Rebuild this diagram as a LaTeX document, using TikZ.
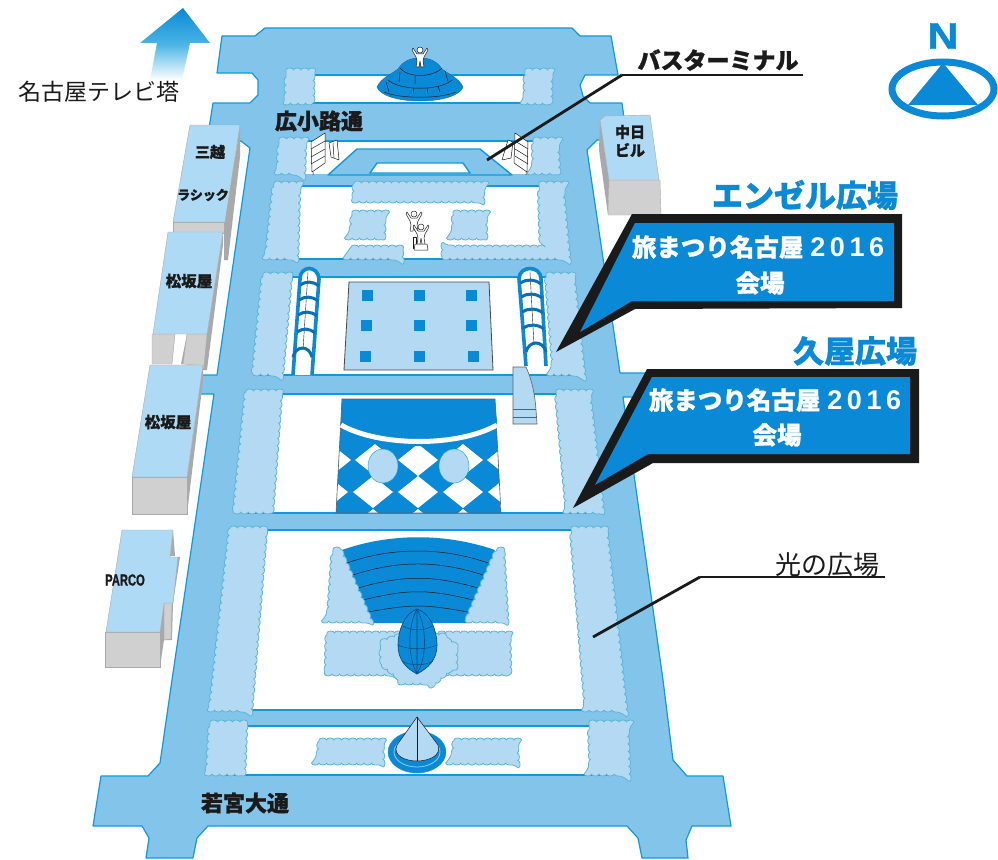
\documentclass[tikz,border=0pt]{standalone}
\usepackage{fontspec}
\usetikzlibrary{decorations.pathmorphing}
\setmainfont[BoldFeatures={FakeBold=1.2}]{Liberation Sans}
\newfontfamily\jp[BoldFeatures={FakeBold=1}]{Noto Sans CJK JP}
\newfontfamily\numfont[LetterSpace=17]{Liberation Sans}
\newcommand\myfs[1]{\fontsize{#1}{#1}\selectfont}
\definecolor{roadc}{HTML}{83C4EB}
\definecolor{edgec}{HTML}{0E9BDC}
\definecolor{shrubc}{HTML}{B4DAF3}
\definecolor{shrubl}{HTML}{5DB5D6}
\definecolor{deepc}{HTML}{0A8AD6}
\definecolor{roofc}{HTML}{AFDAF6}
\definecolor{frontc}{HTML}{D0D0D0}
\definecolor{sidec}{HTML}{A9A9A9}
\definecolor{inkc}{HTML}{1A1A1A}
\definecolor{arcc}{HTML}{0B6FB8}
\tikzset{
  road/.style={fill=roadc,draw=edgec,line width=1.2pt,line join=round},
  block/.style={fill=white,draw=none},
  edgeline/.style={draw=edgec,line width=1.6pt},
  shrub/.style={fill=shrubc,draw=shrubl,line width=.8pt,line join=round,
    decorate,decoration={bumps,segment length=15pt,amplitude=2pt}},
  roof/.style={fill=roofc,draw=sidec,line width=.4pt},
  front/.style={fill=frontc,draw=sidec,line width=.4pt},
  side/.style={fill=sidec,draw=none},
  fig/.style={fill=white,draw=inkc,line width=.5pt,line join=round},
  thin ink/.style={draw=inkc,line width=.5pt},
  leader/.style={draw=inkc,line width=2.8pt},
  under/.style={draw=inkc,line width=2pt},
  arcade/.style={draw=deepc,line width=3.6pt,fill=white},
  band/.style={draw=arcc,line width=3pt},
  lbl/.style={inner sep=0pt,font=\jp\bfseries,text=inkc},
  plain/.style={inner sep=0pt,font=\jp,text=inkc},
  head/.style={inner sep=0pt,font=\jp\bfseries\myfs{31},text=deepc},
  callj/.style={inner sep=0pt,font=\jp\bfseries\myfs{24.5},text=white},
}
\newcommand\person[2]{%
  \begin{scope}[shift={(#1,#2)}]
    \draw[fig] (-7,-2) -- (-3,4) -- (3,4) -- (7,-2) -- (8,0) -- (4,7) -- (3,11) -- (4,17) -- (1,17) -- (0,11) -- (-1,17) -- (-4,17) -- (-3,11) -- (-4,7) -- (-8,0) -- cycle;
    \draw[fig] (0,0) circle (3);
  \end{scope}}
\begin{document}
\begin{tikzpicture}[x=1pt,y=-1pt]
\useasboundingbox (0,0) rectangle (998,859);
% main road network
\draw[road] (222,36) -- (255,36) -- (265,28) -- (572,28) -- (580,36) -- (611,36) -- (618,75) -- (585,75) -- (580,85) -- (583,96) -- (590,103) -- (622,103) -- (627,140) -- (597,140) -- (587,150) -- (620,373) -- (665,373) -- (665,397) -- (623,397) -- (663,680) -- (673,760) -- (687,776) -- (723,776) -- (731,826) -- (692,826) -- (686,840) -- (688,858) -- (642,858) -- (638,838) -- (627,826) -- (208,826) -- (197,838) -- (193,858) -- (146,858) -- (149,838) -- (142,826) -- (93,826) -- (101,776) -- (148,776) -- (160,763) -- (172,680) -- (214,394) -- (190,394) -- (190,375) -- (217,375) -- (250,148) -- (241,141) -- (207,141) -- (213,103) -- (250,103) -- (258,95) -- (258,80) -- (252,73) -- (217,73) -- cycle;
% white blocks
\fill[block] (300,75) rectangle (540,103);
\fill[block] (297,141) rectangle (540,174);
\fill[block] (285,186) -- (555,186) -- (560,259) -- (275,259) -- cycle;
\fill[block] (262,277) -- (570,277) -- (580,375) -- (255,375) -- cycle;
\fill[block] (260,394) -- (575,394) -- (590,513) -- (245,513) -- cycle;
\fill[block] (240,530) -- (590,530) -- (610,710) -- (225,710) -- cycle;
\fill[block] (225,726) -- (610,726) -- (612,775) -- (222,775) -- cycle;
\foreach \ya/\xa/\xb in {75/300/540,103/300/540,141/300/540,186/285/555,259/275/560,277/262/570,375/255/580,394/260/575,513/245/590,530/240/590,710/225/610,726/225/610,775/222/612}
  \draw[edgeline] (\xa,\ya) -- (\xb,\ya);
% bus terminal
\draw[road,line width=1.4pt] (328,175) -- (357,149) -- (480,149) -- (512,175) -- cycle;
\draw[block,draw=edgec,line width=1.4pt] (370,173) -- (377,163) -- (463,163) -- (470,173) -- cycle;
% shrubs
\draw[shrub] (286,70) -- (313,70) -- (313,103) -- (286,103) -- cycle;
\draw[shrub] (525,70) -- (551,70) -- (551,103) -- (525,103) -- cycle;
\draw[shrub] (279,139) -- (305,139) -- (304,173) -- (278,173) -- cycle;
\draw[shrub] (533,139) -- (557,139) -- (559,173) -- (534,173) -- cycle;
\draw[shrub] (274,183) -- (299,183) -- (297,258) -- (266,258) -- cycle;
\draw[shrub] (539,183) -- (562,183) -- (569,258) -- (443,258) -- (443,247) -- (541,247) -- cycle;
\draw[shrub] (354,183) -- (482,183) -- (483,201) -- (354,201) -- cycle;
\draw[shrub] (352,212) -- (384,212) -- (384,238) -- (351,238) -- cycle;
\draw[shrub] (453,212) -- (485,212) -- (486,238) -- (454,238) -- cycle;
\draw[shrub] (351,247) -- (401,247) -- (402,258) -- (349,258) -- cycle;
\draw[shrub] (263,274) -- (291,274) -- (282,374) -- (253,374) -- cycle;
\draw[shrub] (546,274) -- (573,274) -- (584,374) -- (554,374) -- cycle;
\draw[shrub] (246,391) -- (281,391) -- (272,512) -- (234,512) -- cycle;
\draw[shrub] (556,391) -- (589,391) -- (603,512) -- (567,512) -- cycle;
\draw[shrub] (230,528) -- (266,528) -- (251,710) -- (210,710) -- cycle;
\draw[shrub] (571,528) -- (606,528) -- (626,710) -- (586,710) -- cycle;
\draw[shrub] (210,722) -- (246,722) -- (244,774) -- (207,774) -- cycle;
\draw[shrub] (589,722) -- (627,722) -- (629,774) -- (591,774) -- cycle;
\draw[shrub] (319,740) -- (382,740) -- (383,763) -- (318,763) -- cycle;
\draw[shrub] (454,740) -- (516,740) -- (518,763) -- (453,763) -- cycle;
% fountain
\fill[deepc,draw=arcc,line width=.5pt] (377,87) .. controls (381,78) and (392,74) .. (398,69) .. controls (404,60) and (412,58) .. (420,58) .. controls (428,58) and (436,60) .. (442,69) .. controls (448,74) and (459,78) .. (463,87) .. controls (460,96) and (440,101) .. (420,101) .. controls (400,101) and (380,96) .. (377,87) -- cycle;
\draw[thin ink] (388,80) .. controls (400,91) and (440,91) .. (452,80);
\draw[thin ink] (400,68) .. controls (408,78) and (432,78) .. (442,68);
\draw[thin ink] (386,82) -- (389,92) (400,72) -- (399,82) (445,71) -- (448,81) (413,88) -- (414,94) (427,88) -- (428,94) (438,86) -- (440,92) (415,76) -- (415,84);
\draw[thin ink] (384,92) .. controls (400,99) and (440,99) .. (456,92);
\person{420}{50}
% statue
\person{414}{214}
\person{421}{227}
\draw[fig] (413,237) -- (416,237) -- (416,248) -- (413,248) -- cycle;
\draw[fig] (415,244) -- (427,244) -- (428,250) -- (414,250) -- cycle;
% signs
\draw[fig] (311,142) -- (325,133) -- (325,163) -- (312,172) -- cycle;
\draw[thin ink] (311,149) -- (325,141) (311,157) -- (325,149) (311,164) -- (325,156) (313,172) -- (313,175);
\draw[fig] (329,143) -- (337,140) -- (339,160) -- (331,157) -- cycle;
\draw[thin ink] (333,143) -- (334,158);
\draw[fig] (515,133) -- (528,142) -- (527,172) -- (514,163) -- cycle;
\draw[thin ink] (515,141) -- (528,149) (515,149) -- (528,157) (515,156) -- (528,164) (526,172) -- (526,175);
\draw[fig] (502,160) -- (508,140) -- (513,142) -- (511,158) -- cycle;
% arcades
\draw[arcade] (293,375) -- (300,279) .. controls (300,265) and (318,265) .. (319,279) -- (312,375);
\draw[thin ink,line width=.4pt] (308,272) -- (303,350);
\foreach \bl/\br/\by in {300/319/285,299/318/300,298/317/315,297/315/332}
  \draw[band] (\bl,\by) .. controls (\bl+6,\by-4) and (\br-6,\by-4) .. (\br,\by+1);
\draw[band] (293,357) .. controls (296,345) and (309,345) .. (312,357);
\draw[arcade] (526,366) -- (519,279) .. controls (519,265) and (541,265) .. (541,279) -- (546,366);
\draw[thin ink,line width=.4pt] (530,272) -- (534,345);
\foreach \bl/\br/\by in {520/541/283,521/542/297,522/543/312,523/544/328}
  \draw[band] (\bl,\by) .. controls (\bl+6,\by-4) and (\br-6,\by-4) .. (\br,\by+1);
\draw[band] (526,352) .. controls (529,340) and (543,340) .. (546,352);
% Angel plaza square
\draw[fill=shrubc,draw=inkc!80,line width=.8pt] (349,282) -- (489,282) -- (493,370) -- (344,370) -- cycle;
\foreach \dx/\dy in {367/295,419/295,471/295,366/325,419/325,471/325,365/356,419/356,473/356}
  \fill[deepc] (\dx-5.5,\dy-5.5) rectangle (\dx+5.5,\dy+5.5);
% stairs
\draw[fill=shrubc,draw=inkc!70,line width=.6pt] (513,367) -- (526,367) .. controls (532,380) and (535,395) .. (536,410) -- (537,424) -- (513,424) -- cycle;
\draw[draw=inkc!70,line width=.6pt] (513,409) -- (536,409) (513,417) -- (537,417);
% Hisaya plaza
\begin{scope}
  \clip (342,399) -- (495,399) -- (501,513) -- (336,513) -- cycle;
  \fill[deepc] (336,399) rectangle (501,513);
  \foreach \cx/\cy in {331/460,375/460,418/460,463/460,507/460,328/492,373/492,418/492,463/492,508/492,373/525,418/525,463/525}
    \fill[white] (\cx-20,\cy) -- (\cx,\cy-16) -- (\cx+20,\cy) -- (\cx,\cy+16) -- cycle;
\end{scope}
\draw[draw=inkc!70,line width=.6pt] (342,399) -- (495,399) -- (501,513) -- (336,513) -- cycle;
\fill[deepc] (342,400) -- (495,400) -- (497,422) -- (497,428) .. controls (458,452) and (380,452) .. (341,428) -- (341,422) -- cycle;
\draw[white,line width=5pt] (341,425) .. controls (380,447) and (458,447) .. (497,425);
\fill[shrubc,draw=edgec,line width=.4pt] (383,466) ellipse (15 and 17);
\fill[shrubc,draw=edgec,line width=.4pt] (454,466) ellipse (15 and 17);
% Hikari plaza fan
\fill[deepc] (342,550) .. controls (390,533) and (446,533) .. (495,550) -- (468,623) -- (372,623) -- cycle;
\foreach \lx/\rx/\ey/\cy in {347/488/563/547,353/483/575/560.3,358/478/588/575,363/473/600/589,368/468/612/604}
  \draw[thin ink] (\lx,\ey) .. controls (\lx+45,\cy) and (\rx-45,\cy) .. (\rx,\ey);
\draw[shrub] (333,549) -- (340,549) -- (371,621) -- (328,621) -- cycle;
\draw[shrub] (497,549) -- (503,549) -- (507,621) -- (466,621) -- cycle;
\draw[shrub] (327,633) -- (399,633) -- (399,674) -- (326,674) -- cycle;
\draw[shrub] (438,633) -- (509,633) -- (510,674) -- (438,674) -- cycle;
\draw[shrub] (380,642) -- (400,635) -- (440,635) -- (456,645) -- (456,665) -- (435,683) -- (405,683) -- (382,665) -- cycle;
% globe
\draw[fill=deepc,draw=arcc!70!black,line width=.7pt] (417,609) .. controls (430,613) and (437,630) .. (437,645) .. controls (437,660) and (428,668) .. (417,674) .. controls (406,668) and (398,660) .. (398,645) .. controls (398,630) and (405,613) .. (417,609) -- cycle;
\draw[draw=arcc!70!black,line width=.6pt] (417,609) -- (417,674)
  (417,609) .. controls (408,625) and (407,655) .. (417,674)
  (417,609) .. controls (426,625) and (428,655) .. (417,674)
  (403,626) .. controls (410,631) and (425,631) .. (432,626)
  (398,645) .. controls (408,650) and (427,650) .. (437,645)
  (402,661) .. controls (410,666) and (425,666) .. (433,661);
% cone
\fill[deepc,draw=edgec,line width=.4pt] (417,752) ellipse (29 and 21);
\draw[edgec!50!white,line width=.8pt] (417,752) ellipse (23 and 15);
\draw[fill=shrubc,draw=inkc,line width=.5pt] (417,717) -- (438,745) .. controls (442,756) and (428,761) .. (417,761) .. controls (406,761) and (392,756) .. (397,745) -- cycle;
\draw[thin ink] (417,717) -- (417,761);
% buildings
\fill[side] (240,128) -- (240,157) -- (228,260) -- (224,260) -- (224,222) -- cycle;
\draw[front] (173,222) -- (224,222) -- (224,233) -- (173,233) -- cycle;
\draw[roof] (190,125) -- (240,125) -- (225,222) -- (173,222) -- cycle;
\fill[side] (223,232) -- (223,245) -- (207,370) -- (203,370) -- (207,334) -- cycle;
\draw[front] (152,334) -- (175,334) -- (172,364) -- (152,364) -- cycle;
\draw[front] (187,334) -- (207,334) -- (204,366) -- (183,364) -- cycle;
\fill[side] (187,334) -- (183,364) -- (181,364) -- cycle;
\draw[roof] (168,232) -- (223,232) -- (207,334) -- (153,334) -- cycle;
\fill[side] (203,365) -- (203,380) -- (187,514) -- (187,477) -- cycle;
\draw[front] (132,477) -- (187,477) -- (187,514) -- (132,514) -- cycle;
\draw[roof] (150,365) -- (203,365) -- (187,477) -- (132,477) -- cycle;
\fill[side] (173,530) -- (175,556) -- (170,556) -- cycle;
\fill[side] (178,557) -- (180,557) -- (173,603) -- (172,640) -- (164,640) -- (164,603) -- cycle;
\draw[front] (164,603) -- (172,603) -- (171,639) -- (164,640) -- cycle;
\fill[side] (160,632) -- (164,603) -- (164,640) -- (160,667) -- cycle;
\draw[front] (105,632) -- (160,632) -- (160,667) -- (105,667) -- cycle;
\draw[roof] (122,530) -- (173,530) -- (170,557) -- (178,557) -- (173,603) -- (164,603) -- (160,632) -- (106,632) -- cycle;
\fill[side] (600,120) -- (599,150) -- (608,215) -- (609,180) -- cycle;
\draw[front] (609,180) -- (660,180) -- (661,215) -- (608,215) -- cycle;
\draw[roof] (600,120) -- (605,116) -- (650,115) -- (659,180) -- (609,180) -- cycle;
% arrow to TV tower
\shade[top color=deepc,bottom color=white,middle color=edgec!75!white,shading angle=0] (183,8) -- (210,43) -- (190,43) -- (182,80) -- (150,80) -- (157,43) -- (140,43) -- cycle;
% north mark
\draw[deepc,line width=7pt] (943,89) ellipse (51 and 27);
\fill[deepc] (943,63) -- (978,105) -- (908,105) -- cycle;
\node[inner sep=0pt,font=\bfseries\myfs{37},text=deepc,xscale=1.15] (north) at (943,36) {N};
% callouts
\fill[inkc] (632,214) -- (902,214) -- (902,308) -- (635,309) -- (556,352) -- cycle;
\fill[deepc] (635,223) -- (894,223) -- (894,301) -- (632,301) -- (580,332) -- cycle;
\fill[inkc] (647,369) -- (919,369) -- (919,463) -- (653,463) -- (573,508) -- cycle;
\fill[deepc] (652,377) -- (910,377) -- (910,454) -- (648,454) -- (595,485) -- cycle;
\node[callj] (c1a) at (758,247) {旅まつり名古屋\hspace{7pt}{\numfont\bfseries\myfs{27}2016}};
\node[callj] (c1b) at (760,283) {会場};
\node[callj] (c2a) at (775,400) {旅まつり名古屋\hspace{7pt}{\numfont\bfseries\myfs{27}2016}};
\node[callj] (c2b) at (777,435) {会場};
\node[head] (angel) at (805,195) {エンゼル広場};
\node[head] (hisaya) at (855,351) {久屋広場};
% leaders and their labels
\node[plain,font=\jp\bfseries\myfs{23}] (bus) at (718,60) {バスターミナル};
\coordinate (busend) at (803,75);
\coordinate (busknee) at (622,75);
\coordinate (bustip) at (487,160);
\draw[under] (busend) -- (busknee);
\draw[leader] (busknee) -- (bustip);
\node[plain,font=\jp\myfs{26}] (hikari) at (827,565) {光の広場};
\coordinate (hikend) at (885,577);
\coordinate (hikknee) at (700,577);
\coordinate (hiktip) at (593,637);
\draw[under] (hikend) -- (hikknee);
\draw[leader] (hikknee) -- (hiktip);
\node[plain,font=\jp\myfs{23}] (tv) at (99,92) {名古屋テレビ塔};
% street and building labels
\node[lbl,font=\jp\bfseries\myfs{22}] (hiro) at (319,121) {広小路通};
\node[lbl,font=\jp\bfseries\myfs{22}] (waka) at (245,803) {若宮大通};
\node[lbl,font=\jp\bfseries\myfs{15}] (mitsu) at (210,152) {三越};
\node[lbl,font=\jp\bfseries\myfs{13}] (lachic) at (203,195) {ラシック};
\node[lbl,font=\jp\bfseries\myfs{15.5}] (mz1) at (189,281) {松坂屋};
\node[lbl,font=\jp\bfseries\myfs{15.5}] (mz2) at (168,422) {松坂屋};
\node[inner sep=0pt,font=\bfseries\myfs{16},text=inkc,xscale=.7] (parco) at (125,580) {PARCO};
\node[lbl,font=\jp\bfseries\myfs{15}] (chu1) at (630,132) {中日};
\node[lbl,font=\jp\bfseries\myfs{15}] (chu2) at (630,150) {ビル};
\end{tikzpicture}
\end{document}
